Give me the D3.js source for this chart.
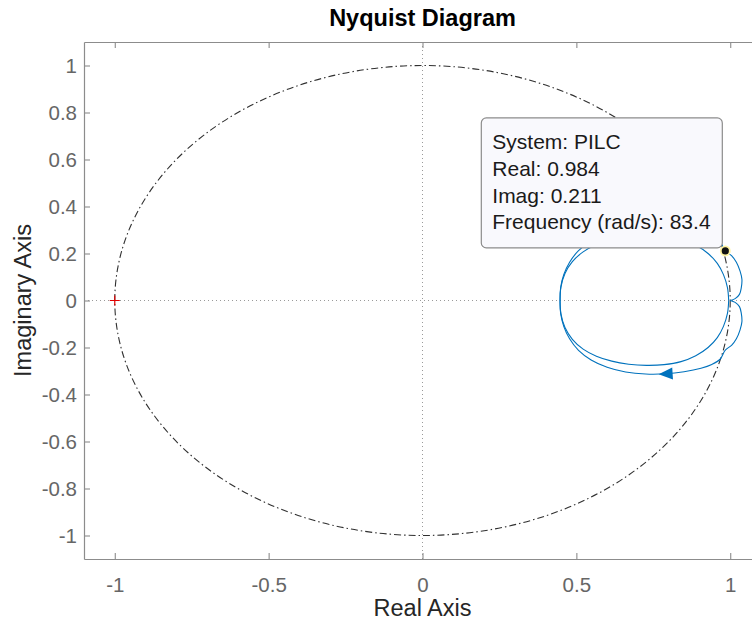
<!DOCTYPE html>
<html>
<head>
<meta charset="utf-8">
<script src="https://cdn.jsdelivr.net/npm/d3@7"></script>
<style>
  body { margin: 0; background: #ffffff; }
  svg { display: block; font-family: "Liberation Sans", Arial, Helvetica, sans-serif; }
</style>
</head>
<body>
<svg id="chart" width="752" height="623"></svg>
<script>
// Axis limits and ticks
const xDomain = [-1.1, 1.1];
const yDomain = [-1.1, 1.1];
const xTicks = [-1, -0.5, 0, 0.5, 1];
const xTickLabels = ["-1", "-0.5", "0", "0.5", "1"];
const yTicks = [-1, -0.8, -0.6, -0.4, -0.2, 0, 0.2, 0.4, 0.6, 0.8, 1];
const yTickLabels = ["-1", "-0.8", "-0.6", "-0.4", "-0.2", "0", "0.2", "0.4", "0.6", "0.8", "1"];

// PILC frequency response for w >= 0, as [real, imag].
// First the low-frequency loop (starting at w = 0 on the real axis) ...
const innerLoop = [
  [0.995, 0.000], [0.991, -0.055], [0.978, -0.110], [0.958, -0.158],
  [0.928, -0.200], [0.888, -0.235], [0.840, -0.260], [0.785, -0.273],
  [0.728, -0.276], [0.670, -0.271], [0.615, -0.258], [0.565, -0.237],
  [0.522, -0.207], [0.487, -0.165], [0.463, -0.115], [0.450, -0.058],
  [0.447, 0.000]
];
// ... then the outer loop that ends at (1, 0) as w -> inf
const outerLoop = [
  [0.447, 0.000], [0.449, 0.055], [0.459, 0.110], [0.478, 0.163],
  [0.507, 0.212], [0.548, 0.253], [0.600, 0.284], [0.660, 0.304],
  [0.725, 0.313], [0.790, 0.312], [0.850, 0.303], [0.905, 0.288],
  [0.940, 0.272], [0.967, 0.250], [0.984, 0.211], [1.005, 0.190],
  [1.020, 0.163], [1.032, 0.125], [1.038, 0.090], [1.036, 0.055],
  [1.030, 0.026], [1.016, 0.008], [1.000, 0.000]
];
// index in outerLoop where the direction arrow sits
const arrowIndex = 9;

// Data tip
const tipSystem = "PILC";
const tipReal = 0.984;
const tipImag = 0.211;
const tipFreq = 83.4;

// Critical point
const criticalPoint = [-1, 0];

const svg = d3.select("#chart");
const x = d3.scaleLinear().domain(xDomain).range([84, 761]);
const y = d3.scaleLinear().domain(yDomain).range([559, 42]);

const axisGray = "#8c8c8c";
const tickTextColor = "#666666";
const curveBlue = "#0072BD";

// Zero lines (dotted)
const zero = svg.append("g")
  .attr("stroke", "#9a9a9a").attr("stroke-width", 1).attr("stroke-dasharray", "1 3");
zero.append("line")
  .attr("x1", x(0)).attr("x2", x(0)).attr("y1", y(yDomain[1])).attr("y2", y(yDomain[0]));
zero.append("line")
  .attr("x1", x(xDomain[0])).attr("x2", x(xDomain[1])).attr("y1", y(0)).attr("y2", y(0));

// Unit circle (dash-dot)
svg.append("ellipse")
  .attr("cx", x(0)).attr("cy", y(0))
  .attr("rx", x(1) - x(0)).attr("ry", y(0) - y(1))
  .attr("fill", "none").attr("stroke", "#303030").attr("stroke-width", 1.1)
  .attr("stroke-dasharray", "7 3 1.5 3");

// Nyquist curve: positive frequencies and the mirrored negative frequencies
const posBranch = innerLoop.concat(outerLoop.slice(1));
const negBranch = posBranch.map(([re, im]) => [re, -im]).reverse();
const line = d3.line()
  .x(d => x(d[0])).y(d => y(d[1]))
  .curve(d3.curveCatmullRom.alpha(0.5));

svg.append("g").selectAll("path")
  .data([posBranch, negBranch])
  .join("path")
  .attr("d", line)
  .attr("fill", "none")
  .attr("stroke", curveBlue)
  .attr("stroke-width", 1.1);

// Direction arrows along each branch
function arrowAt(points, i) {
  const p = points[i - 1], q = points[i + 1], c = points[i];
  const ang = Math.atan2(y(q[1]) - y(p[1]), x(q[0]) - x(p[0])) * 180 / Math.PI;
  svg.append("path")
    .attr("d", "M7,0L-7,-6L-7,6Z")
    .attr("transform", `translate(${x(c[0])},${y(c[1])}) rotate(${ang})`)
    .attr("fill", curveBlue);
}
const outerNeg = outerLoop.map(([re, im]) => [re, -im]).reverse();
arrowAt(outerLoop, arrowIndex);
arrowAt(outerNeg, outerLoop.length - 1 - arrowIndex);

// Critical point marker
svg.append("path")
  .attr("d", "M-5,0H5M0,-5V5")
  .attr("transform", `translate(${x(criticalPoint[0])},${y(criticalPoint[1])})`)
  .attr("stroke", "#e00000").attr("stroke-width", 1.2).attr("fill", "none");

// Axes box with inward ticks
const fmtX = (d, i) => xTickLabels[i];
const fmtY = (d, i) => yTickLabels[i];

const gBottom = svg.append("g").attr("transform", `translate(0,${y(yDomain[0])})`)
  .call(d3.axisBottom(x).tickValues(xTicks).tickFormat(fmtX)
    .tickSizeInner(-6).tickSizeOuter(0).tickPadding(18));
const gTop = svg.append("g").attr("transform", `translate(0,${y(yDomain[1])})`)
  .call(d3.axisTop(x).tickValues(xTicks).tickFormat("")
    .tickSizeInner(-6).tickSizeOuter(0));
const gLeft = svg.append("g").attr("transform", `translate(${x(xDomain[0])},0)`)
  .call(d3.axisLeft(y).tickValues(yTicks).tickFormat(fmtY)
    .tickSizeInner(-6).tickSizeOuter(0).tickPadding(7));
const gRight = svg.append("g").attr("transform", `translate(${x(xDomain[1])},0)`)
  .call(d3.axisRight(y).tickValues(yTicks).tickFormat("")
    .tickSizeInner(-6).tickSizeOuter(0));

[gBottom, gTop, gLeft, gRight].forEach(g => {
  g.select(".domain").attr("stroke", axisGray).attr("stroke-width", 1.2);
  g.selectAll(".tick line").attr("stroke", axisGray).attr("stroke-width", 1.1);
  g.selectAll(".tick text")
    .attr("fill", tickTextColor)
    .style("font-size", "20.5px")
    .style("font-family", "'Liberation Sans', Arial, sans-serif");
});

// Title and axis labels
svg.append("text")
  .attr("x", x(0)).attr("y", 26)
  .attr("text-anchor", "middle")
  .style("font-size", "23.5px").style("font-weight", "bold")
  .attr("fill", "#000")
  .text("Nyquist Diagram");

svg.append("text")
  .attr("x", x(0)).attr("y", 616)
  .attr("text-anchor", "middle")
  .style("font-size", "23.5px")
  .attr("fill", "#262626")
  .text("Real Axis");

svg.append("text")
  .attr("transform", `translate(31,${y(0)}) rotate(-90)`)
  .attr("text-anchor", "middle")
  .style("font-size", "23.5px")
  .attr("fill", "#262626")
  .text("Imaginary Axis");

// Data tip: box anchored at its lower-right corner next to the marker
const mx = x(tipReal), my = y(tipImag);
const boxW = 241, boxH = 130;
const bx = mx - 3 - boxW, by = my - 3 - boxH;
svg.append("rect")
  .attr("x", bx).attr("y", by).attr("width", boxW).attr("height", boxH)
  .attr("rx", 5).attr("ry", 5)
  .attr("fill", "#f9f9fd").attr("stroke", "#8c8c8c").attr("stroke-width", 1.2);

const tipLines = [
  `System: ${tipSystem}`,
  `Real: ${tipReal}`,
  `Imag: ${tipImag}`,
  `Frequency (rad/s): ${tipFreq}`
];
svg.append("g").selectAll("text")
  .data(tipLines)
  .join("text")
  .attr("x", bx + 11)
  .attr("y", (d, i) => by + 31.5 + i * 26.6)
  .style("font-size", "21px")
  .attr("fill", "#1a1a1a")
  .text(d => d);

svg.append("circle")
  .attr("cx", mx).attr("cy", my).attr("r", 4.5)
  .attr("fill", "#111").attr("stroke", "#fff3a0").attr("stroke-width", 1.8);
</script>
</body>
</html>
